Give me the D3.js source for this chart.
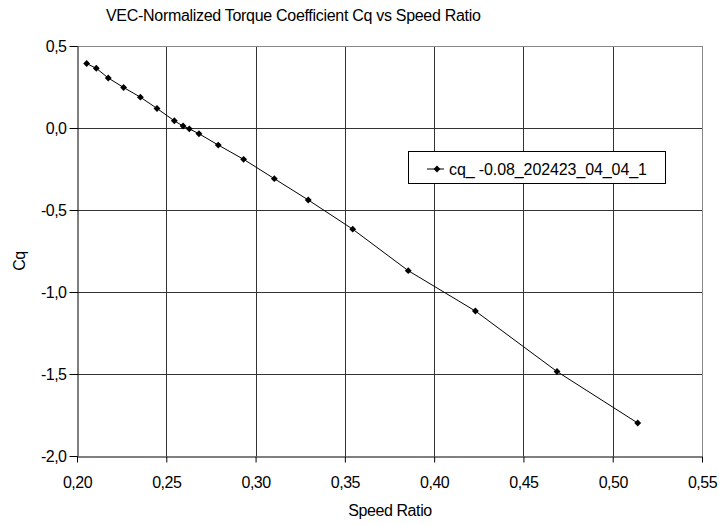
<!DOCTYPE html>
<html><head><meta charset="utf-8">
<script src="https://cdn.jsdelivr.net/npm/d3@7"></script>
<style>body{margin:0;background:#fff}svg{display:block}text{font-family:Arial,"Liberation Sans",sans-serif;fill:#000}</style>
</head><body><svg id="c" width="719" height="525"></svg>
<script>
const speedRatio = [0.2054,0.2108,0.2175,0.2261,0.2355,0.2448,0.2545,0.2594,0.2629,0.2683,0.2791,0.2933,0.3105,0.3295,0.3544,0.3855,0.4231,0.4688,0.5140];
const cq = [0.393,0.364,0.305,0.247,0.188,0.119,0.044,0.012,-0.005,-0.035,-0.104,-0.191,-0.309,-0.439,-0.617,-0.870,-1.116,-1.485,-1.799];
const xTicks = [0.20,0.25,0.30,0.35,0.40,0.45,0.50,0.55];
const yTicks = [0.5,0.0,-0.5,-1.0,-1.5,-2.0];
const seriesName = "cq_ -0.08_202423_04_04_1";
const chartTitle = "VEC-Normalized Torque Coefficient Cq vs Speed Ratio";
const xTitle = "Speed Ratio", yTitle = "Cq";

const svg = d3.select("#c");
const L=77, R=702, T=46, B=456;
const x = d3.scaleLinear().domain([0.20,0.55]).range([L,R]);
const y = d3.scaleLinear().domain([-2.0,0.5]).range([B,T]);
const fmt = d => d3.format(".2f")(d).replace(".",",");
const fmtY = d => d3.format(".1f")(d).replace(".",",").replace("−","-");

// grid
const g = svg.append("g");
g.selectAll("line.vx").data(xTicks.slice(1)).join("line")
  .attr("x1",d=>Math.round(x(d))+0.5).attr("x2",d=>Math.round(x(d))+0.5)
  .attr("y1",T).attr("y2",B).attr("stroke",d=>d===0.55?"#888":"#333").attr("stroke-width",1);
g.selectAll("line.hy").data(yTicks.slice(0,-1)).join("line")
  .attr("y1",d=>Math.round(y(d))+0.5).attr("y2",d=>Math.round(y(d))+0.5)
  .attr("x1",L).attr("x2",R).attr("stroke",d=>d===0.5?"#888":"#333").attr("stroke-width",1);

// axes
const xAxis = d3.axisBottom(x).tickValues(xTicks).tickFormat(fmt).tickSize(6).tickSizeOuter(0).tickPadding(14);
const yAxis = d3.axisLeft(y).tickValues(yTicks).tickFormat(fmtY).tickSize(8).tickSizeOuter(0).tickPadding(3);
const gx = svg.append("g").attr("transform",`translate(0,${B+0.5})`).call(xAxis);
const gy = svg.append("g").attr("transform",`translate(${L+0.5},0)`).call(yAxis);
[gx,gy].forEach(a=>{a.select(".domain").attr("stroke","#000");a.selectAll(".tick line").attr("stroke","#000");
  a.selectAll("text").attr("font-size",16).attr("font-family","Arial, 'Liberation Sans', sans-serif").attr("letter-spacing","-0.5px");});

// line
svg.append("path").datum(speedRatio.map((v,i)=>[v,cq[i]]))
  .attr("fill","none").attr("stroke","#000").attr("stroke-width",1)
  .attr("d",d3.line().x(d=>x(d[0])).y(d=>y(d[1])));
const diamond = d3.symbol().type(d3.symbolDiamond2).size(30);
svg.selectAll("path.m").data(speedRatio.map((v,i)=>[v,cq[i]])).join("path")
  .attr("transform",d=>`translate(${x(d[0])},${y(d[1])})`).attr("d",diamond).attr("fill","#000");

// legend
const lg = svg.append("g");
lg.append("rect").attr("x",408.5).attr("y",151.5).attr("width",257).attr("height",32).attr("fill","#fff").attr("stroke","#000");
lg.append("line").attr("x1",427).attr("x2",444).attr("y1",169).attr("y2",169).attr("stroke","#000");
lg.append("path").attr("transform","translate(437,169)").attr("d",diamond).attr("fill","#000");
lg.append("text").attr("x",449).attr("y",175).attr("font-size",16).attr("letter-spacing","-0.1px").text(seriesName);

// titles
svg.append("text").attr("x",106).attr("y",21).attr("font-size",16).attr("letter-spacing","-0.3px").text(chartTitle);
svg.append("text").attr("x",390).attr("y",516).attr("text-anchor","middle").attr("font-size",16).attr("letter-spacing","-0.4px").text(xTitle);
svg.append("text").attr("transform","translate(25,261) rotate(-90)").attr("text-anchor","middle").attr("font-size",16).attr("letter-spacing","-0.4px").text(yTitle);
</script></body></html>
